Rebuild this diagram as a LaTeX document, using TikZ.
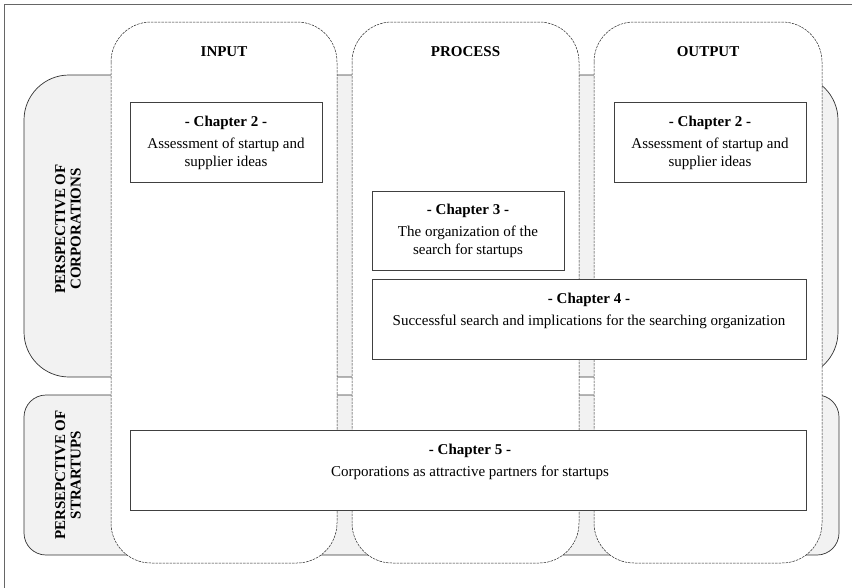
\documentclass[tikz,border=0pt]{standalone}
\usepackage{fontspec}
\setmainfont{Liberation Serif}
\begin{document}
\begin{tikzpicture}[x=1pt,y=-1pt,
  band/.style={draw=black!80, line width=0.7pt, fill=black!5},
  column/.style={draw=black!85, dash pattern=on 2.5pt off 1pt, line width=0.5pt, fill=white, rounded corners=40pt},
  chapbox/.style={draw=black!75, line width=0.8pt, fill=white, inner sep=0pt},
  chaptext/.style={align=center, font=\fontsize{15}{18}\selectfont, inner sep=0pt},
  head/.style={font=\fontsize{15}{18}\selectfont\bfseries, inner sep=0pt},
  side/.style={font=\fontsize{15}{15.5}\selectfont\bfseries, align=center, rotate=90, inner sep=0pt}]
\useasboundingbox (0,0) rectangle (852,587);
% outer frame
\draw[black!60, line width=0.8pt] (4,600) -- (4,4) -- (860,4);
% bands
\draw[band, rounded corners=45pt] (24,75) rectangle (838,377);
\draw[band, rounded corners=22pt] (24,395) rectangle (839,555);
% columns
\draw[column] (111,22) rectangle (337,563);
\draw[column] (352,22) rectangle (579,563);
\draw[column] (594,22) rectangle (822,563);
% column headers
\node[head] (hin) at (224,52) {INPUT};
\node[head] (hpr) at (465.5,52) {PROCESS};
\node[head] (hout) at (708,52) {OUTPUT};
% side labels
\node[side] (corp) at (68,229) {PERSPECTIVE OF\\CORPORATIONS};
\node[side] (start) at (68,475) {PERSEPCTIVE OF\\STRARTUPS};
% chapter boxes
\node[chapbox, minimum width=192pt, minimum height=80pt] (c2a) at (226,142) {};
\node[chaptext] (t2a) at (226,143) {\textbf{- Chapter 2 -}\\[4pt]Assessment of startup and\\supplier ideas};
\node[chapbox, minimum width=192pt, minimum height=80pt] (c2b) at (710,142) {};
\node[chaptext] (t2b) at (710,143) {\textbf{- Chapter 2 -}\\[4pt]Assessment of startup and\\supplier ideas};
\node[chapbox, minimum width=192pt, minimum height=79pt] (c3) at (468,230.5) {};
\node[chaptext] (t3) at (468,231) {\textbf{- Chapter 3 -}\\[4pt]The organization of the\\search for startups};
\node[chapbox, minimum width=434pt, minimum height=80pt] (c4) at (589,319) {};
\node[chaptext] (t4) at (589,311) {\textbf{- Chapter 4 -}\\[4pt]Successful search and implications for the searching organization};
\node[chapbox, minimum width=676pt, minimum height=80pt] (c5) at (468,470) {};
\node[chaptext] (t5) at (470,462) {\textbf{- Chapter 5 -}\\[4pt]Corporations as attractive partners for startups};
\end{tikzpicture}
\end{document}
